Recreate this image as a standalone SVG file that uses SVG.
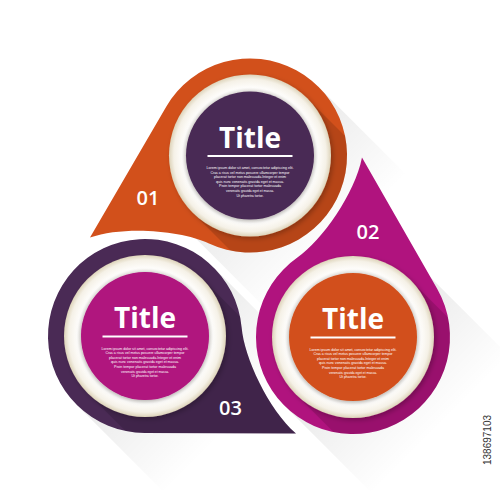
<svg xmlns="http://www.w3.org/2000/svg" xmlns:xlink="http://www.w3.org/1999/xlink" width="500" height="500" viewBox="0 0 500 500">
  <style>
    .orange { fill: #D2501B; }
    .purple { fill: #4A2A55; }
    .magenta { fill: #B0137E; }
    .ls { fill: #000; fill-opacity: 0.13; }
    .ring { fill: url(#ringGrad); filter: url(#ringShadow); }
    .title { font-family: "Open Sans", "Noto Sans", sans-serif; font-weight: 700; font-size: 28px; fill: #fff; text-anchor: middle; }
    .rule { stroke: #fff; stroke-width: 1.8; }
    .lorem { font-family: "Liberation Sans", Arial, sans-serif; font-size: 4.2px; fill: #fff; text-anchor: middle; }
    .num { font-family: "Open Sans", "Noto Sans", sans-serif; font-weight: 600; font-size: 20px; fill: #fff; text-anchor: middle; }
    .xshadow { fill: url(#outShadow); }
  </style>
  <defs>
    <path id="drop" d="M -83.8 -48.8 A 97 97 0 1 1 -41 87.9 C -68.2 75.2 -125 70 -160 82 Z"/>
    <clipPath id="c0"><use href="#drop"/></clipPath>
    <clipPath id="c1"><use href="#drop" transform="rotate(-120)"/></clipPath>
    <clipPath id="c2"><use href="#drop" transform="rotate(120)"/></clipPath>
    <radialGradient id="ringGrad" cx="0.5" cy="0.5" r="0.5">
      <stop offset="0" stop-color="#ffffff"/>
      <stop offset="0.77" stop-color="#ebe8e3"/>
      <stop offset="0.84" stop-color="#fefdfb"/>
      <stop offset="0.94" stop-color="#f5f1e7"/>
      <stop offset="1" stop-color="#ddd3b9"/>
    </radialGradient>
    <linearGradient id="outShadow" x1="0" y1="0" x2="1" y2="0">
      <stop offset="0" stop-color="#000" stop-opacity="0.09"/>
      <stop offset="1" stop-color="#000" stop-opacity="0"/>
    </linearGradient>
    <filter id="ringShadow" x="-30%" y="-30%" width="160%" height="160%">
      <feDropShadow dx="2" dy="2" stdDeviation="2.5" flood-color="#000" flood-opacity="0.25"/>
    </filter>
    <filter id="diskShadow" x="-30%" y="-30%" width="160%" height="160%">
      <feDropShadow dx="0" dy="1" stdDeviation="2.5" flood-color="#000" flood-opacity="0.3"/>
    </filter>
  </defs>

  <rect width="500" height="500" fill="#ffffff"/>

  <g id="shadows">
    <rect class="xshadow" transform="translate(250,155.5) rotate(45)" x="0" y="-97" width="125" height="194"/>
    <rect class="xshadow" transform="translate(353,337) rotate(45)" x="0" y="-97" width="125" height="194"/>
    <rect class="xshadow" transform="translate(145,336) rotate(45)" x="0" y="-97" width="125" height="194"/>
  </g>

  <g id="connectors"></g>

  <g id="node1" transform="translate(250,155.5)">
    <use href="#drop" class="orange"/>
    <g clip-path="url(#c0)"><rect class="ls" transform="rotate(45)" x="0" y="-81" width="260" height="162"/></g>
    <circle class="ring" r="81"/>
    <circle class="purple" r="64" filter="url(#diskShadow)"/>
    <text class="title" x="0" y="-8">Title</text>
    <line class="rule" x1="-42.5" y1="0.5" x2="42.5" y2="0.5"/>
    <text class="lorem" x="0" y="13.5" textLength="87" lengthAdjust="spacingAndGlyphs">Lorem ipsum dolor sit amet, consectetur adipiscing elit.</text>
    <text class="lorem" x="0" y="18.1" textLength="79" lengthAdjust="spacingAndGlyphs">Cras a risus vel metus posuere ullamcorper tempor</text>
    <text class="lorem" x="0" y="22.7" textLength="72" lengthAdjust="spacingAndGlyphs">placerat tortor non malesuada.Integer et enim</text>
    <text class="lorem" x="0" y="27.3" textLength="68" lengthAdjust="spacingAndGlyphs">quis nunc venenatis gravida eget et massa.</text>
    <text class="lorem" x="0" y="31.9" textLength="62" lengthAdjust="spacingAndGlyphs">Proin tempor placerat tortor  malesuada</text>
    <text class="lorem" x="0" y="36.5" textLength="48" lengthAdjust="spacingAndGlyphs">venenatis gravida eget et massa.</text>
    <text class="lorem" x="0" y="41.1" textLength="27" lengthAdjust="spacingAndGlyphs">Ut pharetra tortor.</text>
    <text class="num" x="-102" y="49.5">01</text>
  </g>

  <g id="node2" transform="translate(353,337)">
    <use href="#drop" class="magenta" transform="rotate(120)"/>
    <g clip-path="url(#c2)"><rect class="ls" transform="rotate(45)" x="0" y="-81" width="260" height="162"/></g>
    <circle class="ring" r="81"/>
    <circle class="orange" r="64" filter="url(#diskShadow)"/>
    <text class="title" x="0" y="-8">Title</text>
    <line class="rule" x1="-42.5" y1="0.5" x2="42.5" y2="0.5"/>
    <text class="lorem" x="0" y="13.5" textLength="87" lengthAdjust="spacingAndGlyphs">Lorem ipsum dolor sit amet, consectetur adipiscing elit.</text>
    <text class="lorem" x="0" y="18.1" textLength="79" lengthAdjust="spacingAndGlyphs">Cras a risus vel metus posuere ullamcorper tempor</text>
    <text class="lorem" x="0" y="22.7" textLength="72" lengthAdjust="spacingAndGlyphs">placerat tortor non malesuada.Integer et enim</text>
    <text class="lorem" x="0" y="27.3" textLength="68" lengthAdjust="spacingAndGlyphs">quis nunc venenatis gravida eget et massa.</text>
    <text class="lorem" x="0" y="31.9" textLength="62" lengthAdjust="spacingAndGlyphs">Proin tempor placerat tortor  malesuada</text>
    <text class="lorem" x="0" y="36.5" textLength="48" lengthAdjust="spacingAndGlyphs">venenatis gravida eget et massa.</text>
    <text class="lorem" x="0" y="41.1" textLength="27" lengthAdjust="spacingAndGlyphs">Ut pharetra tortor.</text>
    <text class="num" x="15" y="-98">02</text>
  </g>

  <g id="node3" transform="translate(145,336)">
    <use href="#drop" class="purple" transform="rotate(-120)"/>
    <g clip-path="url(#c1)"><rect class="ls" transform="rotate(45)" x="0" y="-81" width="260" height="162"/></g>
    <circle class="ring" r="81"/>
    <circle class="magenta" r="64" filter="url(#diskShadow)"/>
    <text class="title" x="0" y="-8">Title</text>
    <line class="rule" x1="-42.5" y1="0.5" x2="42.5" y2="0.5"/>
    <text class="lorem" x="0" y="13.5" textLength="87" lengthAdjust="spacingAndGlyphs">Lorem ipsum dolor sit amet, consectetur adipiscing elit.</text>
    <text class="lorem" x="0" y="18.1" textLength="79" lengthAdjust="spacingAndGlyphs">Cras a risus vel metus posuere ullamcorper tempor</text>
    <text class="lorem" x="0" y="22.7" textLength="72" lengthAdjust="spacingAndGlyphs">placerat tortor non malesuada.Integer et enim</text>
    <text class="lorem" x="0" y="27.3" textLength="68" lengthAdjust="spacingAndGlyphs">quis nunc venenatis gravida eget et massa.</text>
    <text class="lorem" x="0" y="31.9" textLength="62" lengthAdjust="spacingAndGlyphs">Proin tempor placerat tortor  malesuada</text>
    <text class="lorem" x="0" y="36.5" textLength="48" lengthAdjust="spacingAndGlyphs">venenatis gravida eget et massa.</text>
    <text class="lorem" x="0" y="41.1" textLength="27" lengthAdjust="spacingAndGlyphs">Ut pharetra tortor.</text>
    <text class="num" x="85.5" y="79">03</text>
  </g>

  <text transform="translate(491,440) rotate(-90)" font-family="Liberation Sans, Arial, sans-serif" font-size="10" fill="#333" text-anchor="middle">138697103</text>
</svg>
